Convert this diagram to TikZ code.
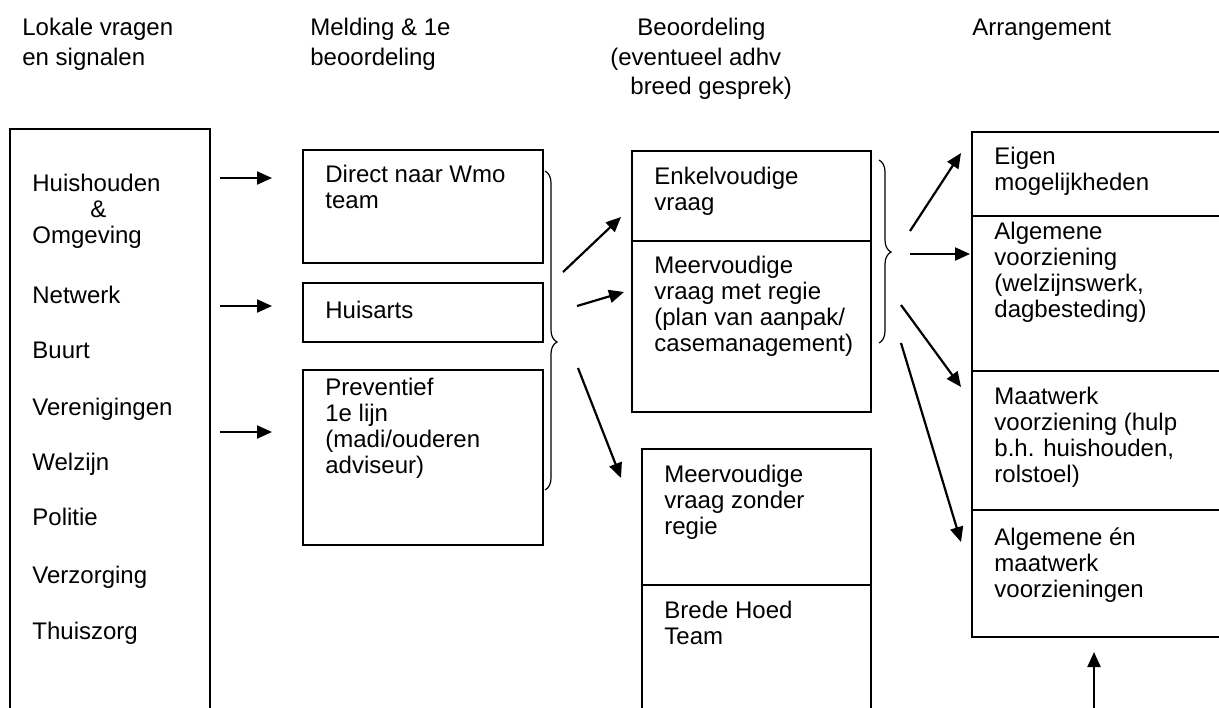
\documentclass[tikz,border=0pt]{standalone}
\usepackage{fontspec}
\setmainfont{Liberation Sans}
\usetikzlibrary{arrows.meta,decorations.pathreplacing}

\tikzset{
  txt/.style={anchor=north west, inner sep=0pt, align=left,
    font=\fontsize{12}{13}\selectfont, execute at begin node=\strut},
  head/.style={txt, font=\fontsize{12}{14.8}\selectfont},
  box/.style={draw, line width=1pt},
  arr/.style={-{Triangle[length=7.5pt,width=6.5pt]}, line width=1.1pt},
  brc/.style={decorate, line width=0.6pt},
}

\begin{document}
\begin{tikzpicture}[x=0.5pt,y=-0.5pt]
  \clip (0,0) rectangle (1219,707);
  % koppen
  \node[head] (kop1) at (22,18) {Lokale vragen\\en signalen};
  \node[head] (kop2) at (310,18) {Melding \& 1e\\beoordeling};
  \node[head] (kop3) at (610,18) {\hspace*{13.5pt}Beoordeling\\(eventueel adhv\\\hspace*{10pt}breed gesprek)};
  \node[head] (kop4) at (972,14) {Arrangement};

  % lokale signalen
  \draw[box] (10,129) rectangle (210,720);
  \node[txt] (huish) at (32,174) {Huishouden\\\hspace*{29pt}\&\\Omgeving};
  \foreach \n/\y/\t in {netw/295/Netwerk, buurt/350/Buurt, veren/407/Verenigingen,
      welz/462/Welzijn, pol/517/Politie, verz/575/Verzorging, thuis/631/Thuiszorg}
    \node[txt] (\n) at (32,\y-10) {\t};

  % melding
  \draw[box] (303,150) rectangle (543,263);
  \draw[box] (303,283) rectangle (543,342);
  \draw[box] (303,370) rectangle (543,545);
  \node[txt] (direct) at (325,165) {Direct naar Wmo\\team};
  \node[txt] (huisarts) at (325,300) {Huisarts};
  \node[txt] (prev) at (325,378) {Preventief\\1e lijn\\(madi/ouderen\\adviseur)};

  \foreach \n/\y in {a/178,b/306,c/432} {
    \coordinate (l\n) at (220,\y);
    \coordinate (r\n) at (272,\y);
    \draw[arr] (l\n) -- (r\n);
  }

  % beoordeling
  \draw[box] (632,151) rectangle (871,412);
  \draw[box] (632,241) -- (871,241);
  \draw[box] (642,449) rectangle (871,720);
  \draw[box] (642,585) -- (871,585);
  \node[txt] (enkel) at (654,167) {Enkelvoudige\\vraag};
  \node[txt] (regie) at (654,256) {Meervoudige\\vraag met regie\\(plan van aanpak/\\casemanagement)};
  \node[txt] (zonder) at (664,465) {Meervoudige\\vraag zonder\\regie};
  \node[txt] (hoed) at (664,601) {Brede Hoed\\Team};

  \draw[brc, decoration={brace, amplitude=6pt, aspect=0.536}] (545,171) -- (545,490);
  \coordinate (m1) at (563,272);
  \coordinate (m2) at (577,306);
  \coordinate (m3) at (578,368);
  \coordinate (e1) at (621,217);
  \coordinate (e2) at (624,292);
  \coordinate (e3) at (621,478);
  \draw[arr] (m1) -- (e1);
  \draw[arr] (m2) -- (e2);
  \draw[arr] (m3) -- (e3);

  % arrangement
  \draw[box] (972,132) rectangle (1240,637);
  \foreach \y in {216,371,510} \draw[box] (972,\y) -- (1240,\y);
  \node[txt] (eigen) at (994,147) {Eigen\\mogelijkheden};
  \node[txt] (alg) at (994,222) {Algemene\\voorziening\\(welzijnswerk,\\dagbesteding)};
  \node[txt] (maat) at (994,387) {Maatwerk\\voorziening (hulp\\b.h. huishouden,\\rolstoel)};
  \node[txt] (beide) at (994,527) {Algemene én\\maatwerk\\voorzieningen};

  \draw[brc, decoration={brace, amplitude=6pt, aspect=0.503}] (879,160) -- (879,343);
  \coordinate (s1) at (910,231);
  \coordinate (s2) at (910,254);
  \coordinate (s3) at (901,305);
  \coordinate (s4) at (901,343);
  \coordinate (t1) at (961,153);
  \coordinate (t2) at (970,254);
  \coordinate (t3) at (961,387);
  \coordinate (t4) at (961,542);
  \foreach \i in {1,...,4} \draw[arr] (s\i) -- (t\i);

  \coordinate (onder) at (1094,710);
  \coordinate (boven) at (1094,652);
  \draw[arr] (onder) -- (boven);
\end{tikzpicture}
\end{document}
